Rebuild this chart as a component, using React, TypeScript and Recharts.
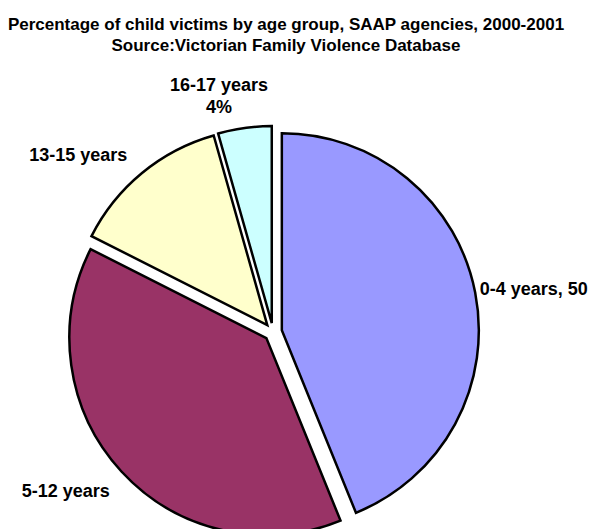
import React from 'react';
import { PieChart, Pie, Cell } from 'recharts';

const categories = ['0-4 years', '5-12 years', '13-15 years', '16-17 years'];
const values = [50, 44, 15, 5];
const colors = ['#9999FF', '#993366', '#FFFFCC', '#CCFFFF'];
// label content flags: show value / show percent
const showValue = [true, false, false, false];
const showPercent = [false, false, false, true];

const titleLine1 = 'Percentage of child victims by age group, SAAP agencies, 2000-2001';
const titleLine2 = 'Source:Victorian Family Violence Database';

const W = 589;
const H = 529;
const CX = 268;
const CY = 327;
const R = 197;
const EXPLODE = 9;
const FONT = '"Liberation Sans", Arial, sans-serif';

// label layout (anchor + nudge relative to polar point at R + 20)
const labelAnchor: Array<'start' | 'end' | 'middle'> = ['start', 'end', 'end', 'middle'];
const labelNudge = [
  [-15, 0],
  [3, 6],
  [-2, -3],
  [-23, -12],
];

const rows = categories.map((name, i) => ({ name, value: values[i] }));
const total = values.reduce((a, b) => a + b, 0);
const RAD = Math.PI / 180;

const mids: number[] = [];
{
  let acc = 0;
  values.forEach((v) => {
    const s = 90 - (acc / total) * 360;
    acc += v;
    const e = 90 - (acc / total) * 360;
    mids.push((s + e) / 2);
  });
}

const makeLabel = (target: number) => (props: any) => {
  const { cx, cy, midAngle, outerRadius, percent, index } = props;
  if (index !== target) return null;
  const r = outerRadius + 20;
  const x = cx + r * Math.cos(-midAngle * RAD) + labelNudge[index][0];
  const y = cy + r * Math.sin(-midAngle * RAD) + labelNudge[index][1];
  const lines: string[] = [];
  let first = categories[index];
  if (showValue[index]) first += ', ' + values[index];
  lines.push(first);
  if (showPercent[index]) lines.push(Math.round(percent * 100) + '%');
  const lh = 22;
  const y0 = y - ((lines.length - 1) * lh) / 2;
  return (
    <text
      key={'lbl' + index}
      x={x}
      y={y0}
      textAnchor={labelAnchor[index]}
      dominantBaseline="central"
      fontFamily={FONT}
      fontWeight="bold"
      fontSize={18}
      fill="#000"
    >
      {lines.map((l, k) => (
        <tspan key={k} x={x} y={y0 + k * lh}>
          {l}
        </tspan>
      ))}
    </text>
  );
};

export default function App() {
  return (
    <div style={{ position: 'absolute', left: 0, top: 0, width: W, height: H, background: '#fff' }}>
      <svg width={W} height={70} style={{ position: 'absolute', left: 0, top: 0 }}>
        <text x={286} y={30} textAnchor="middle" fontFamily={FONT} fontWeight="bold" fontSize={17} fill="#000">
          {titleLine1}
        </text>
        <text x={286} y={51} textAnchor="middle" fontFamily={FONT} fontWeight="bold" fontSize={17} fill="#000">
          {titleLine2}
        </text>
      </svg>
      <div style={{ position: 'absolute', left: 0, top: 0 }}>
        <PieChart width={W} height={H}>
          {values.map((_, i) => (
            <Pie
              key={i}
              data={rows}
              dataKey="value"
              nameKey="name"
              cx={CX + EXPLODE * Math.cos(-mids[i] * RAD)}
              cy={CY + EXPLODE * Math.sin(-mids[i] * RAD)}
              innerRadius={0}
              outerRadius={R}
              startAngle={90}
              endAngle={-270}
              isAnimationActive={false}
              labelLine={false}
              label={makeLabel(i)}
            >
              {rows.map((row, j) => (
                <Cell
                  key={row.name}
                  fill={j === i ? colors[j] : 'none'}
                  stroke={j === i ? '#000' : 'none'}
                  strokeWidth={2.5}
                />
              ))}
            </Pie>
          ))}
        </PieChart>
      </div>
    </div>
  );
}
